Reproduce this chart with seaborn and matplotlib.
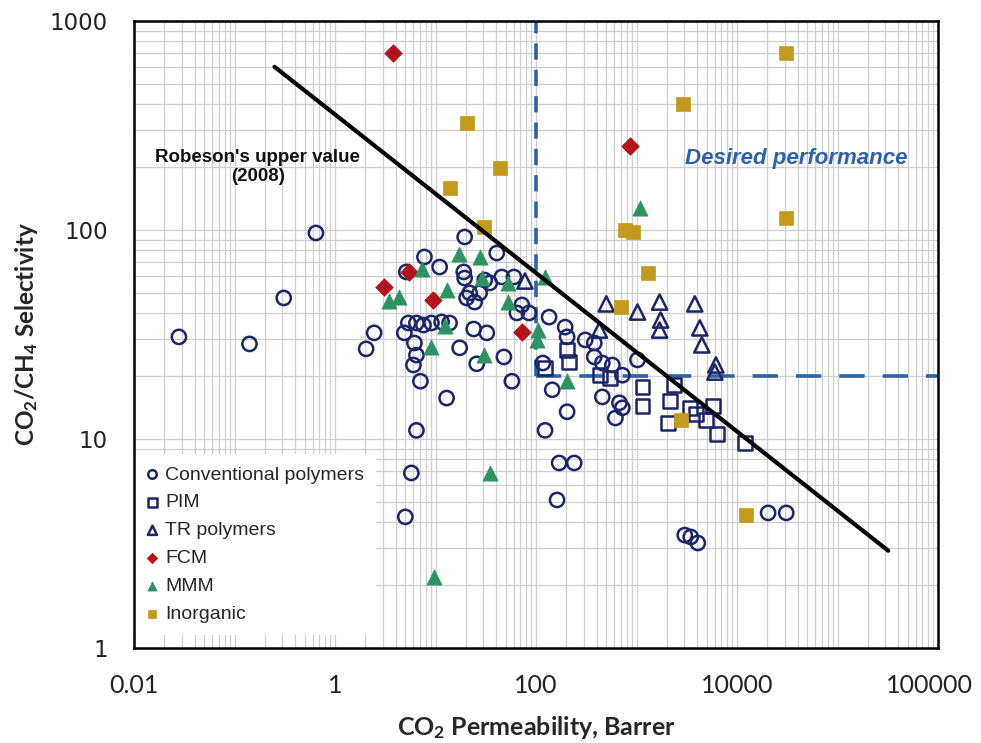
import numpy as np
import pandas as pd
import matplotlib
matplotlib.use("Agg")
import matplotlib.pyplot as plt
import matplotlib.transforms as mtransforms
import seaborn as sns
from matplotlib.ticker import LogLocator, FixedLocator, FixedFormatter, NullFormatter

# ---------------- data ----------------
conv_x = [0.028, 0.141, 0.309, 0.646, 2.04, 2.45, 4.90, 5.37, 6.46, 7.59, 9.12, 11.5, 13.8,
          6.17, 6.46, 6.03, 7.08, 12.9, 17.4, 24.0, 32.4, 25.7, 47.9, 57.5, 6.46, 5.75, 5.01,
          19.5, 7.76, 11.0, 5.13, 19.1, 19.5, 30.9, 40.7, 21.9, 27.5, 20.4, 24.5, 45.7, 60.3,
          72.4, 64.6, 85.1, 135, 195, 204, 309, 380, 380, 457, 575, 724, 457, 676, 724, 617,
          204, 123, 145, 117, 1023, 170, 240, 162, 3020, 3467, 4074, 20400, 30900, 34.7]
conv_y = [30.8, 28.5, 47.3, 96.8, 27.0, 32.2, 32.2, 35.9, 35.9, 35.1, 35.9, 36.3, 35.9,
          28.8, 25.2, 22.6, 18.9, 15.7, 27.3, 33.6, 32.2, 22.9, 24.7, 18.9, 11.0, 6.88, 4.24,
          92.6, 74.3, 66.5, 63.0, 63.0, 58.9, 57.6, 77.6, 50.0, 50.0, 47.3, 45.2, 59.6, 59.6,
          43.8, 40.1, 40.1, 38.3, 34.3, 30.8, 29.8, 28.8, 24.7, 23.1, 22.6, 20.2, 15.9, 14.9, 14.1, 12.6,
          13.5, 11.0, 17.2, 23.1, 23.9, 7.68, 7.68, 5.11, 3.47, 3.40, 3.18, 4.43, 4.43, 55.8]

pim_x = [123, 204, 214, 437, 550, 1148, 1148, 2138, 2344, 2042, 3388, 3890, 4898, 5754, 6310, 12000]
pim_y = [21.9, 26.7, 23.4, 20.2, 19.6, 17.7, 14.4, 15.2, 18.1, 11.9, 14.1, 13.2, 12.3, 14.4, 10.6, 9.57]

tr_x = [77.6, 501, 1023, 1698, 1738, 1698, 3802, 4266, 4467, 6166, 6026, 427]
tr_y = [57.0, 44.3, 40.5, 45.2, 37.1, 33.2, 44.3, 34.0, 28.2, 22.6, 20.9, 33.2]

fcm_x = [3.80, 871, 3.09, 5.50, 9.55, 72.4]
fcm_y = [703, 252, 53.4, 63.0, 46.2, 32.5]

mmm_x = [17.0, 27.5, 7.41, 12.9, 4.37, 3.47, 28.8, 52.5, 52.5, 123, 1072, 12.3, 9.12, 30.2,
         34.7, 9.77, 105, 204, 102]
mmm_y = [76.7, 74.3, 65.1, 51.6, 47.8, 45.8, 58.9, 55.8, 45.2, 59.6, 127, 34.7, 27.6, 25.2,
         6.88, 2.19, 33.2, 18.9, 29.8]

inorg_x = [30900, 2884, 20.4, 43.7, 13.8, 30.2, 776, 933, 1288, 708, 2754, 12300, 30900]
inorg_y = [703, 401, 325, 198, 159, 103, 100, 97.8, 62.3, 42.8, 12.3, 4.33, 114]

robeson_x = [0.25, 3.2e5]
robeson_y = [604, 2.92]

target_perm = 100
target_sel = 20

x_ticks = [0.01, 1, 100, 10000, 1000000]
x_tick_labels = ["0.01", "1", "100", "10000", "100000"]
y_ticks = [1, 10, 100, 1000]
y_tick_labels = ["1", "10", "100", "1000"]

# ---------------- style ----------------
sns.set_theme(style="white")
plt.rcParams["font.family"] = ["Liberation Sans", "DejaVu Sans"]
plt.rcParams["mathtext.fontset"] = "custom"
plt.rcParams["mathtext.rm"] = "Lato:bold"
plt.rcParams["mathtext.bf"] = "Lato:bold"
plt.rcParams["mathtext.default"] = "rm"

navy = "#1c2567"
red = "#b3141c"
green = "#2f9263"
gold = "#c49a1e"
blue = "#2e62a8"

fig = plt.figure(figsize=(9.81, 7.43), dpi=100)
ax = fig.add_axes([134 / 981, 1 - 648 / 743, 804 / 981, 627 / 743])
ax.set_xscale("log")
ax.set_yscale("log")

series = [
    ("Conventional polymers", conv_x, conv_y, "o", 105, "none", navy, 1.8),
    ("PIM", pim_x, pim_y, "s", 100, "none", navy, 1.8),
    ("TR polymers", tr_x, tr_y, "^", 120, "none", navy, 1.8),
    ("FCM", fcm_x, fcm_y, "D", 80, red, red, 0.5),
    ("MMM", mmm_x, mmm_y, "^", 120, green, green, 0.5),
    ("Inorganic", inorg_x, inorg_y, "s", 95, gold, gold, 0.5),
]
for i, (lab, xs, ys, m, s, fc, ec, lw) in enumerate(series):
    df = pd.DataFrame({"x": xs, "y": ys})
    sns.scatterplot(data=df, x="x", y="y", ax=ax, marker=m, s=s, facecolor=fc,
                    edgecolor=ec, linewidth=lw, label=lab, zorder=3 + i * 0.1)

# Robeson upper bound
sns.lineplot(x=robeson_x, y=robeson_y, ax=ax, color="black", lw=3, zorder=5)

# desired performance boundaries
ax.plot([target_perm, target_perm], [target_sel, 1000], color=blue, lw=2.6,
        linestyle=(0, (4.5, 2.8)), zorder=2.5)
ax.plot([target_perm, 1e6], [target_sel, target_sel], color=blue, lw=2.6,
        linestyle=(0, (7, 5)), zorder=2.5)

ax.set_xlim(0.01, 1e6)
ax.set_ylim(1, 1000)

ax.xaxis.set_major_locator(FixedLocator(x_ticks))
ax.xaxis.set_major_formatter(FixedFormatter(x_tick_labels))
ax.yaxis.set_major_locator(FixedLocator(y_ticks))
ax.yaxis.set_major_formatter(FixedFormatter(y_tick_labels))
ax.xaxis.set_minor_locator(LogLocator(base=10, subs=np.arange(1, 10), numticks=100))
ax.yaxis.set_minor_locator(LogLocator(base=10, subs=np.arange(1, 10), numticks=100))
ax.xaxis.set_minor_formatter(NullFormatter())
ax.yaxis.set_minor_formatter(NullFormatter())
ax.grid(True, which="both", color="#cfcfcf", lw=0.9, zorder=0)
ax.set_axisbelow(True)
ax.tick_params(which="major", direction="in", length=6, width=1, color="#555555")
ax.tick_params(which="minor", length=0)
ax.tick_params(axis="x", pad=19)
ax.tick_params(axis="y", pad=19)
xt_labels = ax.get_xticklabels()
for t in xt_labels:
    t.set_family(["Lato", "DejaVu Sans"])
    t.set_fontsize(18)
    t.set_color("#222222")
# keep the last label inside the canvas
shift = mtransforms.ScaledTranslation(-9 / 100, 0, fig.dpi_scale_trans)
xt_labels[-1].set_transform(xt_labels[-1].get_transform() + shift)
for t in ax.get_yticklabels():
    t.set_family(["DejaVu Sans"])
    t.set_fontsize(16.5)
    t.set_color("#222222")

for sp in ax.spines.values():
    sp.set_color("black")
    sp.set_linewidth(1.8)

ax.set_xlabel("CO$_2$ Permeability, Barrer", fontsize=18, fontweight="bold",
              family=["Lato", "DejaVu Sans"], labelpad=12)
ax.set_ylabel("CO$_2$/CH$_4$ Selectivity", fontsize=17.5, fontweight="bold",
              family=["Lato", "DejaVu Sans"], labelpad=7)

ax.text(0.17, 200, "Robeson's upper value\n(2008)", ha="center", va="center",
        fontsize=13.5, fontweight="bold", family=["Liberation Sans", "DejaVu Sans"],
        linespacing=1.2, color="#111111", zorder=6)
ax.text(38900, 219, "Desired performance", ha="center", va="center", fontsize=16,
        fontweight="bold", fontstyle="italic", color=blue,
        family=["Liberation Sans", "DejaVu Sans"], zorder=6)

leg = ax.legend(loc="lower left", bbox_to_anchor=(0.0, 0.021), frameon=True,
                markerscale=0.6, handlelength=0.7, handletextpad=0.3,
                labelspacing=0.53, borderpad=0.6, borderaxespad=0,
                prop={"family": ["Liberation Sans", "DejaVu Sans"], "size": 14})
frame = leg.get_frame()
frame.set_facecolor("white")
frame.set_edgecolor("none")
frame.set_alpha(1)
leg.set_zorder(2)

fig.savefig("out.png", dpi=100)
